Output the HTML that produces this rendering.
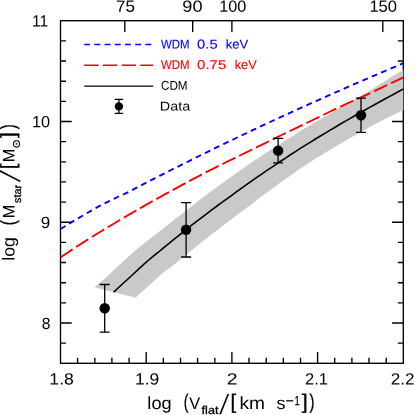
<!DOCTYPE html>
<html><head><meta charset="utf-8"><title>Stellar mass vs flat velocity</title>
<style>html,body{margin:0;padding:0;background:#fff}svg{display:block}text{font-family:"Liberation Sans","DejaVu Sans",sans-serif;fill:#000}</style></head><body>
<svg width="415" height="415" viewBox="0 0 415 415" style="will-change:transform">
<rect width="415" height="415" fill="#fff"/>
<defs><clipPath id="c"><rect x="60.5" y="20.7" width="342.8" height="342.6"/></clipPath></defs>
<path d="M77.6,363.3v-5.5M94.8,363.3v-5.5M111.9,363.3v-5.5M129.1,363.3v-5.5M146.2,363.3v-11.2M163.3,363.3v-5.5M180.5,363.3v-5.5M197.6,363.3v-5.5M214.8,363.3v-5.5M231.9,363.3v-11.2M249.0,363.3v-5.5M266.2,363.3v-5.5M283.3,363.3v-5.5M300.5,363.3v-5.5M317.6,363.3v-11.2M334.7,363.3v-5.5M351.9,363.3v-5.5M369.0,363.3v-5.5M386.2,363.3v-5.5M124.8,20.7v11.2M192.7,20.7v11.2M231.9,20.7v11.2M382.8,20.7v11.2M60.5,343.1h5.5M403.3,343.1h-5.5M60.5,323.0h11.2M403.3,323.0h-11.2M60.5,302.8h5.5M403.3,302.8h-5.5M60.5,282.7h5.5M403.3,282.7h-5.5M60.5,262.5h5.5M403.3,262.5h-5.5M60.5,242.4h5.5M403.3,242.4h-5.5M60.5,222.2h11.2M403.3,222.2h-11.2M60.5,202.1h5.5M403.3,202.1h-5.5M60.5,181.9h5.5M403.3,181.9h-5.5M60.5,161.8h5.5M403.3,161.8h-5.5M60.5,141.6h5.5M403.3,141.6h-5.5M60.5,121.5h11.2M403.3,121.5h-11.2M60.5,101.3h5.5M403.3,101.3h-5.5M60.5,81.2h5.5M403.3,81.2h-5.5M60.5,61.0h5.5M403.3,61.0h-5.5M60.5,40.9h5.5M403.3,40.9h-5.5" stroke="#000" stroke-width="1.35" fill="none"/>
<rect x="60.5" y="20.7" width="342.8" height="342.6" fill="none" stroke="#000" stroke-width="1.35"/>
<g clip-path="url(#c)">
<polygon points="94.6,287.3 99.1,283.3 103.6,279.4 108.1,275.4 112.5,271.3 117.0,267.2 121.5,263.1 126.0,258.9 130.5,254.8 135.0,250.8 139.4,247.1 143.9,243.6 148.4,240.0 152.9,236.6 157.4,233.0 161.9,229.5 166.3,226.0 170.8,222.6 175.3,219.0 179.8,215.5 184.3,212.0 188.8,208.5 193.2,205.0 197.7,201.4 202.2,197.9 206.7,194.5 211.2,191.2 215.7,187.9 220.2,184.7 224.6,181.5 229.1,178.3 233.6,175.1 238.1,171.9 242.6,168.7 247.1,165.6 251.5,162.5 256.0,159.4 260.5,156.4 265.0,153.5 269.5,150.6 274.0,147.7 278.4,144.9 282.9,142.0 287.4,139.2 291.9,136.4 296.4,133.6 300.9,130.8 305.4,128.1 309.8,125.4 314.3,122.8 318.8,120.2 323.3,117.6 327.8,114.9 332.3,112.3 336.7,109.7 341.2,107.2 345.7,104.6 350.2,101.9 354.7,99.3 359.2,96.8 363.6,94.3 368.1,91.7 372.6,88.9 377.1,86.1 381.6,83.3 386.1,80.4 390.5,77.6 395.0,74.8 399.5,71.9 404.0,69.0 404.0,109.8 399.2,112.0 394.4,114.3 389.7,116.7 384.9,119.1 380.1,121.5 375.3,124.0 370.6,126.6 365.8,129.2 361.0,131.8 356.2,134.5 351.5,137.2 346.7,140.0 341.9,142.8 337.1,145.6 332.4,148.4 327.6,151.3 322.8,154.2 318.0,157.1 313.3,160.1 308.5,163.2 303.7,166.3 298.9,169.6 294.2,172.9 289.4,176.3 284.6,179.7 279.8,183.1 275.1,186.5 270.3,190.0 265.5,193.6 260.7,197.1 256.0,200.7 251.2,204.4 246.4,208.0 241.6,211.6 236.9,215.1 232.1,218.7 227.3,222.3 222.5,226.0 217.8,229.7 213.0,233.3 208.2,237.1 203.4,240.8 198.7,244.6 193.9,248.4 189.1,252.3 184.3,256.1 179.6,260.0 174.8,263.9 170.0,267.8 163.3,272.6 135.4,297.7" fill="#c9c9c9"/>
<polyline points="60.5,229.0 66.3,225.5 72.1,221.9 78.0,218.4 83.8,215.0 89.6,211.6 95.4,208.3 101.3,205.1 107.1,202.2 112.9,199.3 118.7,196.5 124.5,193.9 130.4,191.0 136.2,187.9 142.0,184.9 147.8,181.9 153.7,178.9 159.5,175.9 165.3,173.0 171.1,170.0 176.9,167.1 182.8,164.2 188.6,161.3 194.4,158.4 200.2,155.5 206.1,152.6 211.9,149.8 217.7,146.9 223.5,144.1 229.3,141.3 235.2,138.5 241.0,135.7 246.8,133.0 252.6,130.2 258.4,127.5 264.3,124.7 270.1,122.0 275.9,119.3 281.7,116.6 287.6,114.0 293.4,111.3 299.2,108.7 305.0,106.0 310.8,103.4 316.7,100.8 322.5,98.2 328.3,95.6 334.1,93.0 340.0,90.4 345.8,87.9 351.6,85.3 357.4,82.8 363.2,80.3 369.1,77.8 374.9,75.3 380.7,72.8 386.5,70.3 392.4,67.9 398.2,65.4 404.0,63.0" fill="none" stroke="#0000ff" stroke-width="1.9" stroke-dasharray="5.9 4.3"/>
<polyline points="60.5,257.4 66.3,253.5 72.1,249.6 78.0,245.8 83.8,242.1 89.6,238.4 95.4,234.8 101.3,231.2 107.1,227.6 112.9,224.2 118.7,220.7 124.5,217.3 130.4,213.9 136.2,210.5 142.0,207.2 147.8,203.9 153.7,200.6 159.5,197.4 165.3,194.1 171.1,190.9 176.9,187.8 182.8,184.6 188.6,181.5 194.4,178.4 200.2,175.3 206.1,172.2 211.9,169.3 217.7,166.4 223.5,163.5 229.3,160.6 235.2,157.8 241.0,155.0 246.8,152.2 252.6,149.3 258.4,146.4 264.3,143.6 270.1,140.7 275.9,137.9 281.7,135.0 287.6,132.2 293.4,129.4 299.2,126.6 305.0,123.9 310.8,121.0 316.7,118.2 322.5,115.4 328.3,112.5 334.1,109.7 340.0,106.9 345.8,104.2 351.6,101.5 357.4,98.9 363.2,96.3 369.1,93.6 374.9,90.8 380.7,88.1 386.5,85.3 392.4,82.6 398.2,79.8 404.0,77.1" fill="none" stroke="#ff0000" stroke-width="1.9" stroke-dasharray="14.5 4.2"/>
<polyline points="113.7,292.2 118.6,287.5 123.5,283.0 128.5,278.5 133.4,274.0 138.3,269.4 143.2,264.8 148.1,260.5 153.1,256.4 158.0,252.5 162.9,248.4 167.8,244.4 172.7,240.4 177.7,236.4 182.6,232.5 187.5,228.6 192.4,224.7 197.3,220.9 202.3,217.1 207.2,213.4 212.1,209.7 217.0,206.0 221.9,202.4 226.9,198.9 231.8,195.3 236.7,191.7 241.6,188.2 246.5,184.6 251.5,181.1 256.4,177.7 261.3,174.3 266.2,170.9 271.2,167.6 276.1,164.3 281.0,161.0 285.9,157.8 290.8,154.5 295.8,151.4 300.7,148.2 305.6,145.1 310.5,142.1 315.4,139.0 320.4,136.0 325.3,133.1 330.2,130.1 335.1,127.2 340.0,124.3 345.0,121.4 349.9,118.6 354.8,115.7 359.7,112.9 364.6,110.2 369.6,107.4 374.5,104.7 379.4,102.0 384.3,99.3 389.2,96.6 394.2,94.0 399.1,91.3 404.0,88.7" fill="none" stroke="#000" stroke-width="1.6"/>
</g>
<path d="M104.7,284.5V332.1M99.7,284.5h10M99.7,332.1h10M186.1,202.6V257.0M181.1,202.6h10M181.1,257.0h10M278.1,138.4V162.9M273.1,138.4h10M273.1,162.9h10M361.0,98.2V132.4M356.0,98.2h10M356.0,132.4h10M118.9,99.4V113.4M114.7,99.4h8.4M114.7,113.4h8.4" stroke="#000" stroke-width="1.3" fill="none"/>
<circle cx="104.7" cy="308.3" r="5.2"/>
<circle cx="186.1" cy="229.8" r="5.2"/>
<circle cx="278.1" cy="150.65" r="5.2"/>
<circle cx="361.0" cy="115.3" r="5.2"/>
<circle cx="118.9" cy="106.4" r="4.2"/>
<path d="M84.2,44.4H153.3" stroke="#0000ff" stroke-width="1.5" stroke-dasharray="5.9 4.3"/>
<path d="M84.2,65.3H153.3" stroke="#ff0000" stroke-width="1.5" stroke-dasharray="14.5 4.2"/>
<path d="M84.2,86.0H153.3" stroke="#000" stroke-width="1.25"/>
<text transform="translate(160.90,48.4) skewY(0.1)" textLength="28.58" lengthAdjust="spacingAndGlyphs" style="font-size:12.8px;fill:#0000ff;stroke:#0000ff;stroke-width:0.12px">WDM</text>
<text transform="translate(197.10,48.4) skewY(0.1)" textLength="20.47" lengthAdjust="spacingAndGlyphs" style="font-size:12.8px;fill:#0000ff;stroke:#0000ff;stroke-width:0.12px">0.5</text>
<text transform="translate(225.70,48.4) skewY(0.1)" textLength="22.56" lengthAdjust="spacingAndGlyphs" style="font-size:12.8px;fill:#0000ff;stroke:#0000ff;stroke-width:0.12px">keV</text>
<text transform="translate(160.90,69.0) skewY(0.1)" textLength="28.58" lengthAdjust="spacingAndGlyphs" style="font-size:12.8px;fill:#ff0000;stroke:#ff0000;stroke-width:0.12px">WDM</text>
<text transform="translate(197.10,69.0) skewY(0.1)" textLength="29.11" lengthAdjust="spacingAndGlyphs" style="font-size:12.8px;fill:#ff0000;stroke:#ff0000;stroke-width:0.12px">0.75</text>
<text transform="translate(234.70,69.0) skewY(0.1)" textLength="21.96" lengthAdjust="spacingAndGlyphs" style="font-size:12.8px;fill:#ff0000;stroke:#ff0000;stroke-width:0.12px">keV</text>
<text transform="translate(160.90,89.8) skewY(0.1)" textLength="26.74" lengthAdjust="spacingAndGlyphs" style="font-size:12.8px">CDM</text>
<text transform="translate(159.78,110.4) skewY(0.1)" textLength="30.36" lengthAdjust="spacingAndGlyphs" style="font-size:12.8px">Data</text>
<text transform="translate(32.03,26.45) skewY(0.1)" textLength="16.25" lengthAdjust="spacingAndGlyphs" style="font-size:16.2px">11</text>
<text transform="translate(31.99,127.25) skewY(0.1)" textLength="18.12" lengthAdjust="spacingAndGlyphs" style="font-size:16.2px">10</text>
<text transform="translate(40.65,228.1) skewY(0.1)" textLength="9.47" lengthAdjust="spacingAndGlyphs" style="font-size:16.2px">9</text>
<text transform="translate(41.70,329.0) skewY(0.1)" textLength="8.72" lengthAdjust="spacingAndGlyphs" style="font-size:16.2px">8</text>
<text transform="translate(49.31,384.5) skewY(0.1)" textLength="24.55" lengthAdjust="spacingAndGlyphs" style="font-size:16.2px">1.8</text>
<text transform="translate(135.02,384.5) skewY(0.1)" textLength="24.34" lengthAdjust="spacingAndGlyphs" style="font-size:16.2px">1.9</text>
<text transform="translate(226.70,384.5) skewY(0.1)" textLength="10.82" lengthAdjust="spacingAndGlyphs" style="font-size:16.2px">2</text>
<text transform="translate(304.98,384.5) skewY(0.1)" textLength="22.94" lengthAdjust="spacingAndGlyphs" style="font-size:16.2px">2.1</text>
<text transform="translate(390.84,384.5) skewY(0.1)" textLength="23.80" lengthAdjust="spacingAndGlyphs" style="font-size:16.2px">2.2</text>
<text transform="translate(115.95,11.8) skewY(0.1)" textLength="18.97" lengthAdjust="spacingAndGlyphs" style="font-size:16.2px">75</text>
<text transform="translate(182.28,11.8) skewY(0.1)" textLength="20.24" lengthAdjust="spacingAndGlyphs" style="font-size:16.2px">90</text>
<text transform="translate(219.30,11.8) skewY(0.1)" textLength="27.02" lengthAdjust="spacingAndGlyphs" style="font-size:16.2px">100</text>
<text transform="translate(369.38,11.8) skewY(0.1)" textLength="27.64" lengthAdjust="spacingAndGlyphs" style="font-size:16.2px">150</text>
<text transform="translate(147.36,409.1) skewY(0.1)" textLength="24.31" lengthAdjust="spacingAndGlyphs" style="font-size:17.5px">log</text>
<text transform="translate(183.72,408.6) skewY(0.1)" textLength="4.67" lengthAdjust="spacingAndGlyphs" style="font-size:20.5px;stroke:#000;stroke-width:0.3px">(</text>
<text transform="translate(189.30,409.0) skewY(0.1)" textLength="10.91" lengthAdjust="spacingAndGlyphs" style="font-size:16.8px">V</text>
<text transform="translate(201.60,414.0) skewY(0.1)" textLength="16.88" lengthAdjust="spacingAndGlyphs" style="font-size:11.5px;stroke:#000;stroke-width:0.3px">flat</text>
<text transform="translate(230.60,408.6) skewY(0.1)" textLength="5.70" lengthAdjust="spacingAndGlyphs" style="font-size:20.5px;stroke:#000;stroke-width:0.3px">[</text>
<text transform="translate(239.40,409.1) skewY(0.1)" textLength="25.55" lengthAdjust="spacingAndGlyphs" style="font-size:17.5px">km</text>
<text transform="translate(276.60,409.1) skewY(0.1)" textLength="8.97" lengthAdjust="spacingAndGlyphs" style="font-size:17.5px">s</text>
<text transform="translate(285.63,405.6) skewY(0.1)" textLength="7.95" lengthAdjust="spacingAndGlyphs" style="font-size:14px;stroke:#000;stroke-width:0.3px">−</text>
<text transform="translate(294.73,404.9) skewY(0.1)" textLength="4.82" lengthAdjust="spacingAndGlyphs" style="font-size:13px;stroke:#000;stroke-width:0.3px">1</text>
<text transform="translate(301.80,408.6) skewY(0.1)" textLength="5.93" lengthAdjust="spacingAndGlyphs" style="font-size:20.5px;stroke:#000;stroke-width:0.3px">]</text>
<text transform="translate(309.40,408.6) skewY(0.1)" textLength="5.01" lengthAdjust="spacingAndGlyphs" style="font-size:20.5px;stroke:#000;stroke-width:0.3px">)</text>
<text transform="translate(219.3,413.6) scale(1,1.2) skewX(-12)" style="font-size:23px">/</text>
<g transform="translate(14.5,260.2) rotate(-90)">
<text transform="translate(-0.61,0) skewY(0.1)" textLength="23.68" lengthAdjust="spacingAndGlyphs" style="font-size:17.5px">log</text>
<text transform="translate(35.07,0.4) skewY(0.1)" textLength="5.01" lengthAdjust="spacingAndGlyphs" style="font-size:20.5px;stroke:#000;stroke-width:0.3px">(</text>
<text transform="translate(41.93,0) skewY(0.1)" textLength="13.53" lengthAdjust="spacingAndGlyphs" style="font-size:16.8px">M</text>
<text transform="translate(57.20,6.6) skewY(0.1)" textLength="18.00" lengthAdjust="spacingAndGlyphs" style="font-size:10.8px;stroke:#000;stroke-width:0.3px">star</text>
<text transform="translate(91.00,0.4) skewY(0.1)" textLength="5.70" lengthAdjust="spacingAndGlyphs" style="font-size:20.5px;stroke:#000;stroke-width:0.3px">[</text>
<text transform="translate(98.03,0) skewY(0.1)" textLength="13.53" lengthAdjust="spacingAndGlyphs" style="font-size:16.8px">M</text>
<text transform="translate(122.20,0.4) skewY(0.1)" textLength="5.70" lengthAdjust="spacingAndGlyphs" style="font-size:20.5px;stroke:#000;stroke-width:0.3px">]</text>
<text transform="translate(131.00,0.4) skewY(0.1)" textLength="5.01" lengthAdjust="spacingAndGlyphs" style="font-size:20.5px;stroke:#000;stroke-width:0.3px">)</text>
<text transform="translate(77.9,5.3) scale(1,1.2) skewX(-19)" style="font-size:24px">/</text>
<text x="111.6" y="5.3" style="font-family:'DejaVu Sans',sans-serif;font-size:11px;stroke:#000;stroke-width:0.3px">⊙</text>
</g>
</svg></body></html>
